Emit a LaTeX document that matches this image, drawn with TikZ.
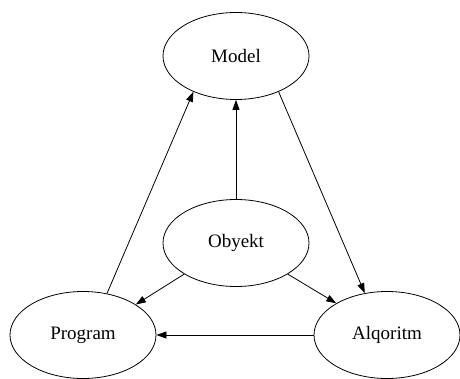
\documentclass[tikz,border=0pt]{standalone}
\usepackage{fontspec}
\setmainfont{Liberation Serif}
\usetikzlibrary{shapes.geometric,arrows.meta}
\begin{document}
\begin{tikzpicture}[x=1pt,y=-1pt,
  ent/.style={draw, ellipse, line width=0.8pt, minimum width=146pt, minimum height=87pt, inner sep=0pt, font=\fontsize{19}{22}\selectfont},
  conn/.style={draw, line width=0.8pt, -{Triangle[length=10pt,width=7pt]}}]
\useasboundingbox[fill=white] (0,0) rectangle (460,379);
\node[ent] (model) at (236,56) {Model};
\node[ent] (obyekt) at (236,243) {Obyekt};
\node[ent] (program) at (83,335) {Program};
\node[ent] (alqoritm) at (387,335) {Alqoritm};
\draw[conn] (program.60) -- (model.220);
\draw[conn] (obyekt) -- (model);
\draw[conn] (model.-40) -- (alqoritm.118);
\draw[conn] (obyekt.211) -- (program.30);
\draw[conn] (obyekt.-31) -- (alqoritm.148);
\draw[conn] (alqoritm) -- (program);
\end{tikzpicture}
\end{document}
